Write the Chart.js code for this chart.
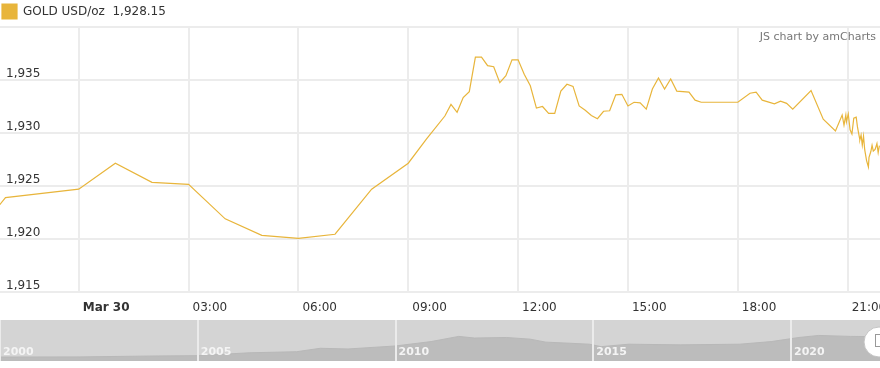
<!DOCTYPE html>
<html>
<head>
<meta charset="utf-8">
<script src="https://cdn.jsdelivr.net/npm/chart.js@4/dist/chart.umd.min.js"></script>
<style>
  html, body { margin: 0; padding: 0; background: #fff; }
  #wrap { position: relative; width: 880px; height: 368px; }
  #mainChart { position: absolute; left: 0; top: 0; }
  #navChart { position: absolute; left: 0; top: 320px; }
</style>
</head>
<body>
<div id="wrap">
  <canvas id="mainChart" width="880" height="315"></canvas>
  <canvas id="navChart" width="880" height="41"></canvas>
</div>
<script>
// minutes from Mar 30 00:00
const minutes = [
  -180, -120, 0, 60, 120, 180, 240, 300, 360, 420, 480, 540,
  570, 600, 610, 620, 630, 640, 650, 660, 670, 680, 690, 700, 710, 720, 730, 740,
  750, 760, 770, 780, 790, 800, 810, 820, 830, 840, 850, 860, 870, 880, 890, 900,
  910, 920, 930, 940, 950, 960, 970, 980,
  1000, 1010, 1020, 1080, 1100, 1110, 1120, 1140, 1150, 1160, 1170, 1200, 1220, 1240,
  1251, 1254, 1257, 1258, 1261, 1264, 1267, 1270, 1274, 1276, 1279, 1280, 1282, 1284,
  1286, 1288, 1291, 1294, 1295, 1298, 1300, 1302, 1305, 1308, 1310, 1312
];
const prices = [
  1919.7, 1923.9, 1924.7, 1927.15, 1925.35, 1925.15, 1921.9, 1920.35, 1920.05, 1920.45, 1924.7, 1927.15,
  1929.45, 1931.6, 1932.7, 1931.95, 1933.35, 1933.9, 1937.15, 1937.15, 1936.35, 1936.25, 1934.75, 1935.4, 1936.9, 1936.9, 1935.55, 1934.45,
  1932.35, 1932.5, 1931.85, 1931.85, 1933.95, 1934.6, 1934.4, 1932.55, 1932.15, 1931.65, 1931.35, 1932.05, 1932.1, 1933.6, 1933.65, 1932.55,
  1932.9, 1932.85, 1932.25, 1934.15, 1935.2, 1934.15, 1935.1, 1933.95,
  1933.85, 1933.1, 1932.9, 1932.9, 1933.75, 1933.85, 1933.1, 1932.75, 1933.0, 1932.8, 1932.25, 1934.0, 1931.3, 1930.2,
  1931.7, 1930.75, 1931.7, 1931.05, 1931.8, 1930.3, 1929.9, 1931.4, 1931.5, 1930.6, 1929.65, 1929.35, 1929.8, 1928.85,
  1929.7, 1928.4, 1927.4, 1926.8, 1927.7, 1928.25, 1928.85, 1928.3, 1928.45, 1929.0, 1928.15, 1928.8
];
const tickMinutes = [0, 180, 360, 540, 720, 900, 1080, 1260];
const tickLabels = ['Mar 30', '03:00', '06:00', '09:00', '12:00', '15:00', '18:00', '21:00'];
const seriesName = 'GOLD USD/oz  1,928.15';

// scrollbar preview (whole history)
const navYears = [2000, 2002, 2004, 2005, 2006.3, 2007.5, 2008.1, 2008.8, 2010, 2010.9, 2011.6, 2012,
  2012.8, 2013.4, 2013.8, 2014.4, 2014.9, 2015.2, 2015.9, 2017.2, 2018.7, 2019.5, 2020.2, 2020.7, 2021.5, 2022.25];
const navPrices = [290, 300, 370, 390, 600, 680, 930, 880, 1100, 1420, 1800, 1680,
  1720, 1600, 1380, 1300, 1230, 1050, 1230, 1180, 1230, 1420, 1720, 1870, 1800, 1780];
const navTicks = [2000, 2005, 2010, 2015, 2020];

const gold = '#e8b53b';
const gridColor = '#ececec';
Chart.defaults.font.family = "'DejaVu Sans', Verdana, sans-serif";
Chart.defaults.font.size = 12;
Chart.defaults.color = '#333';

const legendGap = {
  id: 'legendGap',
  beforeInit(chart) {
    const fit = chart.legend.fit;
    chart.legend.fit = function () {
      fit.bind(chart.legend)();
      this.height = 25;
    };
  }
};

const watermark = {
  id: 'watermark',
  afterDraw(chart) {
    const {ctx, chartArea} = chart;
    ctx.save();
    ctx.font = "11px 'DejaVu Sans'";
    ctx.fillStyle = '#777';
    ctx.textAlign = 'right';
    ctx.textBaseline = 'middle';
    ctx.fillText('JS chart by amCharts', chartArea.right - 4, chartArea.top + 10);
    ctx.restore();
  }
};

new Chart(document.getElementById('mainChart'), {
  type: 'line',
  data: {
    datasets: [{
      label: seriesName,
      data: minutes.map((m, i) => ({x: m, y: prices[i]})),
      borderColor: gold,
      backgroundColor: gold,
      borderWidth: 1.2,
      pointRadius: 0,
      tension: 0,
      fill: false
    }]
  },
  options: {
    responsive: false,
    animation: false,
    layout: { padding: { top: 2, left: 0, right: 0, bottom: 0 } },
    plugins: {
      legend: {
        position: 'top',
        align: 'start',
        labels: { boxWidth: 15, boxHeight: 15, padding: 2, color: '#333', font: { size: 12 } }
      },
      tooltip: { enabled: false }
    },
    scales: {
      x: {
        type: 'linear',
        min: -129,
        max: 1313,
        afterBuildTicks(scale) {
          scale.ticks = tickMinutes.map(v => ({value: v}));
        },
        afterFit(scale) {
          scale.paddingLeft = 0;
          scale.paddingRight = 0;
          scale.height = 23;
        },
        grid: { color: gridColor, lineWidth: 2, drawTicks: false },
        border: { display: false },
        ticks: {
          autoSkip: false,
          maxRotation: 0,
          align: 'start',
          labelOffset: 4,
          padding: 9,
          color: '#333',
          font: ctx => ({ size: 12, weight: ctx.tick && ctx.tick.value === 0 ? 'bold' : 'normal' }),
          callback: v => tickLabels[tickMinutes.indexOf(v)]
        }
      },
      y: {
        min: 1915,
        max: 1940,
        afterFit(scale) {
          scale.width = 0;
        },
        grid: { color: gridColor, lineWidth: 2, drawTicks: false },
        border: { display: false },
        ticks: {
          stepSize: 5,
          mirror: true,
          padding: 6,
          labelOffset: -6,
          color: '#333',
          callback: v => v >= 1940 ? '' : v.toLocaleString('en-US')
        }
      }
    }
  },
  plugins: [legendGap, watermark]
});

const navDecor = {
  id: 'navDecor',
  beforeDraw(chart) {
    const {ctx, chartArea} = chart;
    ctx.save();
    ctx.fillStyle = '#d4d4d4';
    ctx.fillRect(chartArea.left, chartArea.top, chartArea.width, chartArea.height);
    ctx.restore();
  },
  afterDraw(chart) {
    const {ctx, chartArea} = chart;
    const xs = chart.scales.x;
    ctx.save();
    ctx.font = "bold 11px 'DejaVu Sans'";
    ctx.fillStyle = '#f4f4f4';
    ctx.textAlign = 'left';
    ctx.textBaseline = 'middle';
    navTicks.forEach(y => {
      ctx.fillText(String(y), xs.getPixelForValue(y) + 3, chartArea.bottom - 9);
    });
    // scrollbar grip
    const cx = chartArea.right - 1, cy = chartArea.top + 22;
    ctx.beginPath();
    ctx.arc(cx, cy, 15, 0, Math.PI * 2);
    ctx.fillStyle = '#fff';
    ctx.fill();
    ctx.strokeStyle = '#c4c4c4';
    ctx.lineWidth = 1;
    ctx.stroke();
    ctx.strokeStyle = '#999';
    ctx.strokeRect(cx - 3.5, cy - 7.5, 8, 12);
    ctx.restore();
  }
};

new Chart(document.getElementById('navChart'), {
  type: 'line',
  data: {
    datasets: [{
      data: navYears.map((y, i) => ({x: y, y: navPrices[i]})),
      borderColor: '#b8b8b8',
      backgroundColor: '#bcbcbc',
      borderWidth: 1,
      pointRadius: 0,
      fill: 'origin'
    }]
  },
  options: {
    responsive: false,
    animation: false,
    layout: { padding: 0 },
    plugins: { legend: { display: false }, tooltip: { enabled: false } },
    scales: {
      x: {
        type: 'linear',
        min: 2000,
        max: 2022.25,
        afterBuildTicks(scale) {
          scale.ticks = navTicks.map(v => ({value: v}));
        },
        afterFit(scale) {
          scale.paddingLeft = 0;
          scale.paddingRight = 0;
          scale.height = 0;
        },
        grid: { color: '#ebebeb', lineWidth: 2, drawTicks: false, z: 1 },
        border: { display: false },
        ticks: { display: false }
      },
      y: { display: false, min: 0, max: 3000 }
    }
  },
  plugins: [navDecor]
});
</script>
</body>
</html>
